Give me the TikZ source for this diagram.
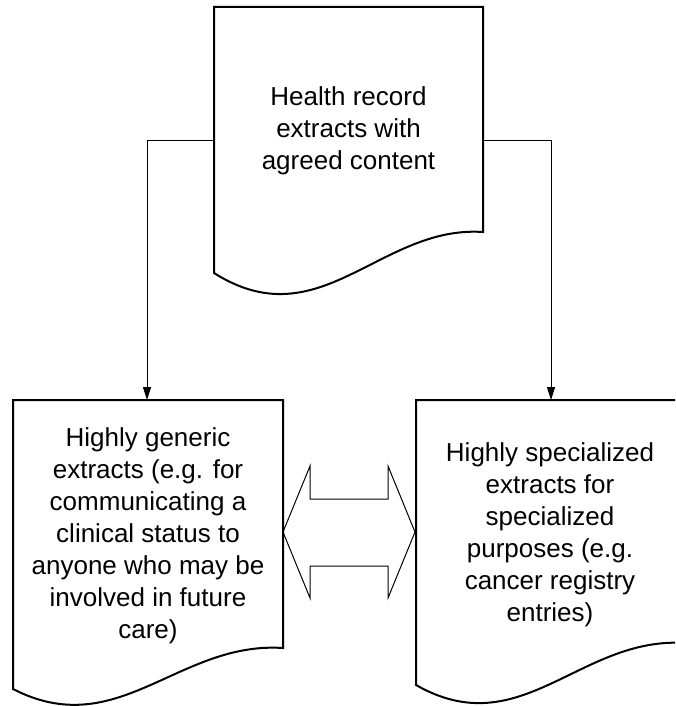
\documentclass[tikz,border=0pt]{standalone}
\usepackage{fontspec}
\setmainfont{Liberation Sans}
\usetikzlibrary{arrows.meta}

\begin{document}
\begin{tikzpicture}[x=1pt,y=-1pt,
  doc/.style={line width=2pt,fill=white,line join=miter},
  link/.style={line width=1pt,-{Triangle[length=13pt,width=8pt]}},
  txt/.style={align=center,inner sep=0pt,font=\fontsize{26}{32}\selectfont}]
  \useasboundingbox (0,0) rectangle (675,706);
  \clip (0,0) rectangle (675,706);
  % documents
  \draw[doc] (214,7) -- (483,7) -- (483,232)
    .. controls (380,225) and (320,340) .. (214,273) -- cycle;
  \draw[doc] (13,400) -- (283,400) -- (283,648)
    .. controls (178,641) and (118,743) .. (13,689) -- cycle;
  \draw[doc] (416,400) -- (685,400) -- (685,643)
    .. controls (580,636) and (521,745) .. (416,685) -- cycle;
  \node[txt] (hrec) at (348.5,131) {Health record\\extracts with\\agreed content};
  \node[txt] (generic) at (148,536) {Highly generic\\extracts (e.g. for\\communicating a\\clinical status to\\anyone who may be\\involved in future\\care)};
  \node[txt] (special) at (550,535) {Highly specialized\\extracts for\\specialized\\purposes (e.g.\\cancer registry\\entries)};
  % connectors
  \coordinate (hrecL) at (214,140);
  \coordinate (hrecR) at (483,140);
  \coordinate (genTop) at (147,400);
  \coordinate (specTop) at (551,400);
  \draw[link] (hrecL) -| (genTop);
  \draw[link] (hrecR) -| (specTop);
  % double arrow
  \draw[line width=1pt,line join=miter] (283,532) -- (310,466) -- (310,499)
    -- (388,499) -- (388,466) -- (415,532) -- (388,598) -- (388,566)
    -- (310,566) -- (310,598) -- cycle;
\end{tikzpicture}
\end{document}
